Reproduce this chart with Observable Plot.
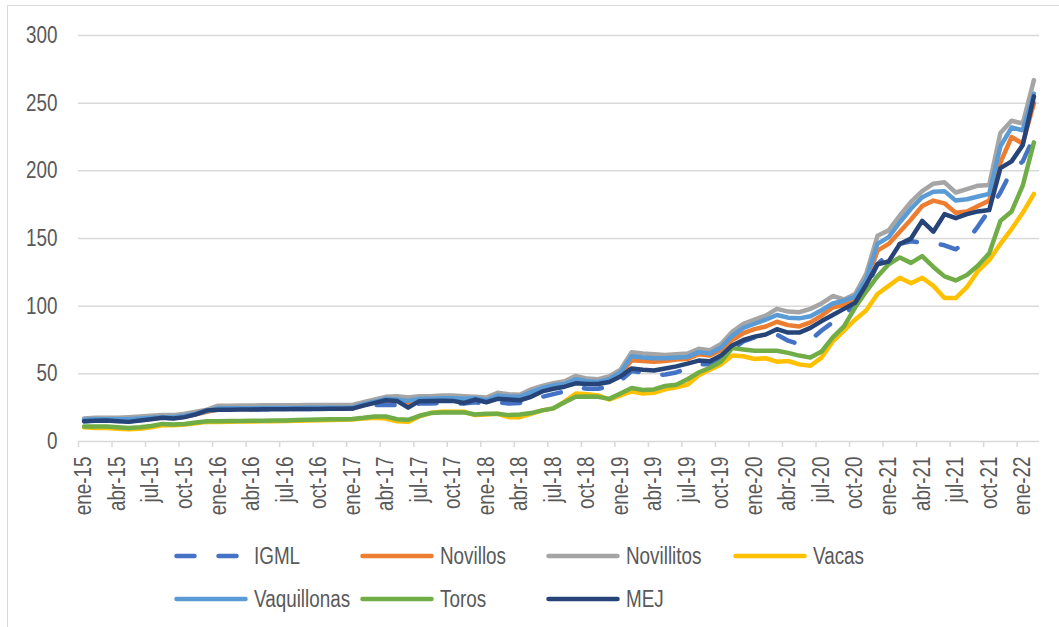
<!DOCTYPE html>
<html>
<head>
<meta charset="utf-8">
<script src="https://cdn.jsdelivr.net/npm/d3@7"></script>
<script src="https://cdn.jsdelivr.net/npm/@observablehq/plot@0.6"></script>
<style>
  html, body { margin: 0; padding: 0; background: #ffffff; overflow: hidden; width: 1059px; height: 627px; }
  #frame { position: absolute; left: 7px; top: 5px; width: 1100px; height: 700px; border: 1.5px solid #d9d9d9; box-sizing: border-box; }
  #chart { position: absolute; left: 0; top: 0; }
  #legend { position: absolute; left: 0; top: 0; width: 1059px; height: 627px; }
  .lg-item { position: absolute; display: flex; align-items: center; height: 30px; white-space: nowrap; }
  .lg-item span { display: inline-block; margin-left: 5px; font-family: "Liberation Sans", Arial, sans-serif; font-size: 23px; color: #595959; transform: scaleX(0.82); transform-origin: left center; }
</style>
</head>
<body>
<div id="frame"></div>
<div id="chart"></div>
<div id="legend"></div>
<script>
const months = [
  "ene-15","feb-15","mar-15","abr-15","may-15","jun-15","jul-15","ago-15","sep-15","oct-15","nov-15","dic-15",
  "ene-16","feb-16","mar-16","abr-16","may-16","jun-16","jul-16","ago-16","sep-16","oct-16","nov-16","dic-16",
  "ene-17","feb-17","mar-17","abr-17","may-17","jun-17","jul-17","ago-17","sep-17","oct-17","nov-17","dic-17",
  "ene-18","feb-18","mar-18","abr-18","may-18","jun-18","jul-18","ago-18","sep-18","oct-18","nov-18","dic-18",
  "ene-19","feb-19","mar-19","abr-19","may-19","jun-19","jul-19","ago-19","sep-19","oct-19","nov-19","dic-19",
  "ene-20","feb-20","mar-20","abr-20","may-20","jun-20","jul-20","ago-20","sep-20","oct-20","nov-20","dic-20",
  "ene-21","feb-21","mar-21","abr-21","may-21","jun-21","jul-21","ago-21","sep-21","oct-21","nov-21","dic-21",
  "ene-22","feb-22"
];

const IGML = [
  15, 15.5, 15.5, 15.2, 15, 15.8, 16.5, 17.3, 17.3, 18.3, 20, 22.5,
  23.5, 23.5, 23.6, 23.7, 23.8, 23.8, 23.9, 24, 24, 24.1, 24.1, 24.2,
  24.2, 26, 27, 27, 27, 27, 28, 28, 28.5, 28, 28, 29,
  28, 29, 28, 28.5, 31, 33, 35, 37, 40, 39, 39, 40.5,
  45, 52, 51, 49, 49.5, 51, 54, 57, 57, 61, 68, 74,
  77, 79, 79, 74.5, 72, 75, 82, 88, 93, 102, 113, 131,
  139, 146, 148, 147, 146.5, 145, 142, 148, 159, 171, 184, 200,
  207, 225
];
const Novillos = [
  15.5, 16, 16, 16, 16, 16.5, 17, 17.5, 17.5, 18.5, 20, 22,
  24, 24, 24.1, 24.1, 24.2, 24.2, 24.3, 24.3, 24.4, 24.4, 24.5, 24.5,
  24.5, 27, 29, 30.5, 30, 28, 30.5, 30.5, 31, 31, 30.5, 31,
  30, 33, 32, 32, 35.5, 38.5, 40.5, 41.5, 45, 43.5, 43, 45,
  50, 60, 59.5, 59, 59.5, 60.5, 61, 64.5, 63.5, 67.5, 75, 80,
  83, 85, 88.5, 86, 85, 88, 93, 99, 101, 105, 117, 141,
  146, 155, 164, 174, 178, 176, 169, 170, 174, 178, 206, 225,
  220, 250
];
const Novillitos = [
  17, 17.5, 17.5, 17.5, 18, 18.5, 19, 19.5, 19.5, 20.5, 22, 23.5,
  26.5, 26.5, 26.6, 26.6, 26.7, 26.7, 26.8, 26.8, 26.9, 26.9, 27, 27,
  27, 29, 31, 33, 33.5, 32.5, 33.5, 33.5, 34, 34, 33.5, 33,
  32.5, 36, 35, 34.5, 38.5, 41, 43, 44.5, 48.5, 46.5, 46, 48,
  53, 66, 65, 64.5, 64, 64.5, 65, 68.5, 67.5, 72, 81, 87,
  90, 93, 98, 96, 95.5, 98, 102, 107.5, 105, 109, 124, 152,
  156, 167, 177, 185, 190.5, 191.5, 184, 186.5, 189, 189.5, 228, 237,
  235, 267
];
const Vacas = [
  10.5, 10, 10, 9.5, 9, 9.5, 10.5, 12, 12, 12.5, 13.5, 14.5,
  14.5, 14.6, 14.7, 14.8, 14.9, 15, 15.1, 15.3, 15.5, 15.7, 15.9, 16,
  16.2, 17, 17.5, 17, 15, 14.5, 18.5, 21, 22, 22, 22, 19.5,
  20, 20.5, 18, 18, 20.5, 23, 24.5, 29.5, 35.5, 35, 34, 31,
  34, 37, 35.5, 36, 38.5, 40, 42, 49, 53, 57, 63.5, 63,
  61, 61.5, 59, 59.5, 57, 56, 62, 74, 82, 90, 97, 109,
  115, 121, 117, 121, 115, 106, 106, 114, 126, 134, 146, 157,
  169, 183
];
const Vaquillonas = [
  16, 16.5, 16.5, 16.5, 16.5, 17, 17.5, 18, 18, 19, 20.5, 22.5,
  24.5, 24.5, 24.6, 24.6, 24.7, 24.7, 24.8, 24.8, 24.9, 24.9, 25, 25,
  25, 27.5, 29.5, 31.5, 31, 30, 31.5, 31.5, 32, 32, 31.5, 32,
  30.5, 34, 33, 33, 36.5, 39.5, 41.5, 42.5, 46, 44.5, 44, 46,
  51, 63, 62, 61.5, 61.5, 62, 62.5, 66, 65, 69.5, 78, 84,
  87, 90, 93.5, 91.5, 91, 92.5, 97, 102, 104, 107, 120, 146,
  151, 162, 172, 180.5, 184.5, 185, 178, 179, 181, 183, 218, 232,
  230, 257
];
const Toros = [
  11, 11, 11, 10.5, 10, 10.5, 11.5, 13, 12.5, 13, 14, 15,
  15, 15.1, 15.2, 15.3, 15.4, 15.5, 15.6, 15.8, 16, 16.2, 16.4, 16.5,
  16.7, 17.5, 18.5, 18.5, 16.5, 16, 19, 21, 21.5, 21.5, 21.5, 20,
  20.5, 20.5, 19.5, 20, 21, 23, 24.5, 29, 33, 33.2, 33, 31.5,
  35.5, 39.5, 38, 38.5, 41, 42, 46, 51, 54.5, 59, 69, 68,
  67, 67, 67, 65.5, 63.5, 62, 66.5, 77, 85, 99, 111, 122,
  131, 136, 132, 137, 129, 122, 119, 123, 130, 139, 163, 170,
  189, 221
];
const MEJ = [
  15, 15.3, 15.5, 15, 14.5, 15.5, 16.5, 17.5, 17, 18, 20, 23,
  23.5, 23.5, 23.6, 23.7, 23.8, 23.8, 23.9, 24, 24, 24.1, 24.2, 24.2,
  24.3, 26.5, 28.5, 30.5, 30, 25, 29.8, 30, 30.2, 30, 28.5, 31,
  29, 31.5, 31, 30.5, 33, 37, 39, 40.5, 43, 42.5, 42.5, 44,
  48, 54, 53, 52.5, 54, 55.5, 57.5, 59.8, 59.3, 63.5, 71, 75,
  77.5, 79, 83, 80.5, 80.5, 84, 89, 93.5, 98, 102.5, 116, 131,
  133, 146, 150, 163, 155, 168, 165, 168, 170, 171, 202, 207,
  219, 255
];

const seriesNames = ["IGML", "Novillos", "Novillitos", "Vacas", "Vaquillonas", "Toros", "MEJ"];
const seriesValues = [IGML, Novillos, Novillitos, Vacas, Vaquillonas, Toros, MEJ];
const seriesColors = ["#4472C4", "#ED7D31", "#A5A5A5", "#FFC000", "#5B9BD5", "#70AD47", "#264478"];
const seriesDash = ["18 24", null, null, null, null, null, null];
const yTicks = [0, 50, 100, 150, 200, 250, 300];

const FONT = '"Liberation Sans", Arial, sans-serif';
const NARROW = 0.82;
const LINE_W = 4.5;

const n = months.length;
const idx = months.map((m, i) => i);
const labelIdx = idx.filter(i => i % 3 === 0);
const tickBounds = labelIdx.map(i => i - 0.5);

const lineMarks = seriesNames.map((name, s) => {
  const data = seriesValues[s].map((v, i) => ({ name, i, v }));
  const opts = {
    x: "i", y: "v", stroke: seriesColors[s], strokeWidth: LINE_W,
    strokeLinejoin: "round", strokeLinecap: "round"
  };
  if (seriesDash[s]) opts.strokeDasharray = seriesDash[s];
  return Plot.line(data, opts);
});

const chart = Plot.plot({
  width: 1059,
  height: 530,
  marginLeft: 78,
  marginRight: 20,
  marginTop: 35,
  marginBottom: 89,
  x: { type: "linear", domain: [-0.5, n - 0.5] },
  y: { domain: [0, 300] },
  style: { fontFamily: FONT, fontSize: "23px", color: "#595959", background: "transparent", overflow: "visible" },
  marks: [
    Plot.ruleY(yTicks, { stroke: "#d9d9d9", strokeWidth: 1.5 }),
    Plot.axisY({ ticks: yTicks, tickSize: 0, tickPadding: 21, label: null, fill: "#595959", fontSize: 23 }),
    Plot.axisX({ ticks: tickBounds, tickSize: 6, tickFormat: () => "", stroke: "#d9d9d9", strokeWidth: 1.5, label: null }),
    Plot.axisX({ ticks: labelIdx, tickFormat: i => months[i], tickRotate: -90, tickSize: 0, tickPadding: 15, label: null, fill: "#595959", fontSize: 23 }),
    ...lineMarks
  ]
});

// emulate a narrow face: compress each tick label along its own text direction
chart.querySelectorAll('g[aria-label$="tick label"] text').forEach(t => {
  const tr = t.getAttribute("transform");
  if (tr) {
    t.setAttribute("transform", tr + ` scale(${NARROW},1)`);
  } else {
    const x = +t.getAttribute("x") || 0, y = +t.getAttribute("y") || 0;
    t.removeAttribute("x"); t.removeAttribute("y");
    t.setAttribute("transform", `translate(${x},${y}) scale(${NARROW},1)`);
  }
});
document.getElementById("chart").appendChild(chart);

// Legend below the plot
const legend = document.getElementById("legend");
const colX = [173, 359, 545, 732];
const rowY = [556, 599];
seriesNames.forEach((name, s) => {
  const col = s < 4 ? s : s - 4;
  const row = s < 4 ? 0 : 1;
  const item = document.createElement("div");
  item.className = "lg-item";
  item.style.left = colX[col] + "px";
  item.style.top = (rowY[row] - 15) + "px";
  const svgNS = "http://www.w3.org/2000/svg";
  const svg = document.createElementNS(svgNS, "svg");
  svg.setAttribute("width", 76);
  svg.setAttribute("height", 12);
  const ln = document.createElementNS(svgNS, "line");
  ln.setAttribute("x1", 3.5); ln.setAttribute("x2", 72.5);
  ln.setAttribute("y1", 6); ln.setAttribute("y2", 6);
  ln.setAttribute("stroke", seriesColors[s]);
  ln.setAttribute("stroke-width", LINE_W);
  ln.setAttribute("stroke-linecap", "round");
  if (seriesDash[s]) ln.setAttribute("stroke-dasharray", seriesDash[s]);
  svg.appendChild(ln);
  item.appendChild(svg);
  const sp = document.createElement("span");
  sp.textContent = name;
  item.appendChild(sp);
  legend.appendChild(item);
});
</script>
</body>
</html>
